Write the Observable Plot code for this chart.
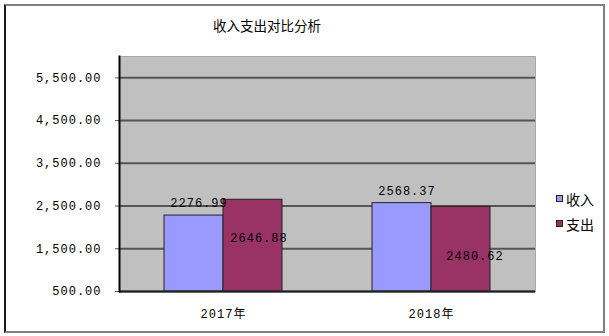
<!DOCTYPE html>
<html>
<head>
<meta charset="utf-8">
<script src="https://cdn.jsdelivr.net/npm/d3@7"></script>
<script src="https://cdn.jsdelivr.net/npm/@observablehq/plot@0.6"></script>
<style>
  html, body { margin: 0; padding: 0; background: #fff; }
  #wrap { position: relative; width: 609px; height: 336px; overflow: hidden; }
  #border { position: absolute; left: 4px; top: 4px; width: 597px; height: 325px;
    border-top: 2px solid #808080; border-right: 2px solid #808080; border-bottom: 2px solid #808080;
    border-left: 2px solid #1a1a1a; box-sizing: content-box; pointer-events: none; }
  #title { position: absolute; left: 0; top: 15px; width: 534px; text-align: center;
    font-family: "Noto Sans CJK SC", sans-serif; font-size: 13.5px; color: #000; }
  #legend { position: absolute; left: 556px; top: 186px; font-family: "Noto Sans CJK SC", sans-serif;
    font-size: 14px; color: #000; }
  .row { display: flex; align-items: center; height: 25px; }
  .sw { width: 5px; height: 5px; border: 1px solid #222; margin-right: 3px; }
  #chart { position: absolute; left: 0; top: 0; }
</style>
</head>
<body>
<div id="wrap">
  <div id="chart"></div>
  <div id="title"></div>
  <div id="legend"></div>
  <div id="border"></div>
</div>
<script>
const title = "收入支出对比分析";
const years = ["2017年", "2018年"];
const seriesNames = ["收入", "支出"];
const income = [2276.99, 2568.37];
const expense = [2646.88, 2480.62];
const yTicks = [500, 1500, 2500, 3500, 4500, 5500];
const yMin = 500;
const yMax = 6000;
const colors = ["#9999FF", "#993366"];

const data = [];
years.forEach((y, i) => {
  data.push({year: y, series: seriesNames[0], value: income[i]});
  data.push({year: y, series: seriesNames[1], value: expense[i]});
});

const fmt = d3.format(",.2f");
const mono = "'Liberation Mono', 'Noto Sans CJK SC', monospace";

const chart = Plot.plot({
  width: 609,
  height: 336,
  marginLeft: 119,
  marginRight: 74,
  marginTop: 56,
  marginBottom: 45,
  style: {fontFamily: mono, fontSize: "12px", color: "#000", background: "transparent", letterSpacing: "1px"},
  fx: {domain: years, padding: 0, label: null},
  x: {domain: seriesNames, paddingInner: 0, paddingOuter: 0.76, axis: null},
  y: {domain: [yMin, yMax], label: null},
  color: {domain: seriesNames, range: colors},
  marks: [
    Plot.frame({facet: "super", fill: "#C0C0C0", stroke: "#A8A8A8"}),
    Plot.gridY(yTicks, {stroke: "#555", strokeOpacity: 1, strokeWidth: 2}),
    Plot.axisY(yTicks, {tickFormat: fmt, tickSize: 4, tickPadding: 14, stroke: "#555", label: null, fill: "#000"}),
    Plot.barY(data, {fx: "year", x: "series", y1: () => yMin, y2: "value", fill: "series", stroke: "#222", strokeWidth: 1}),
    Plot.ruleY([yMin], {stroke: "#222", strokeWidth: 2}),
    Plot.frame({facet: "super", anchor: "left", stroke: "#000", strokeWidth: 2}),
    Plot.text(data.filter(d => d.series === seriesNames[0]), {fx: "year", x: "series", y: "value", text: d => d.value.toFixed(2), dx: 5, dy: -12, fill: "#000"}),
    Plot.text(data.filter(d => d.series === seriesNames[1] && d.year === years[0]), {fx: "year", x: "series", y: "value", text: d => d.value.toFixed(2), dx: 6, dy: 38, fill: "#000"}),
    Plot.text(data.filter(d => d.series === seriesNames[1] && d.year === years[1]), {fx: "year", x: "series", y: "value", text: d => d.value.toFixed(2), dx: 14, dy: 49, fill: "#000"}),
    Plot.axisFx({anchor: "bottom", tickSize: 0, tickPadding: 18, label: null})
  ]
});
document.getElementById("chart").appendChild(chart);
document.getElementById("title").textContent = title;
const lg = document.getElementById("legend");
seriesNames.forEach((s, i) => {
  const row = document.createElement("div");
  row.className = "row";
  const sw = document.createElement("span");
  sw.className = "sw";
  sw.style.background = colors[i];
  const t = document.createElement("span");
  t.textContent = s;
  row.appendChild(sw);
  row.appendChild(t);
  lg.appendChild(row);
});
</script>
</body>
</html>
